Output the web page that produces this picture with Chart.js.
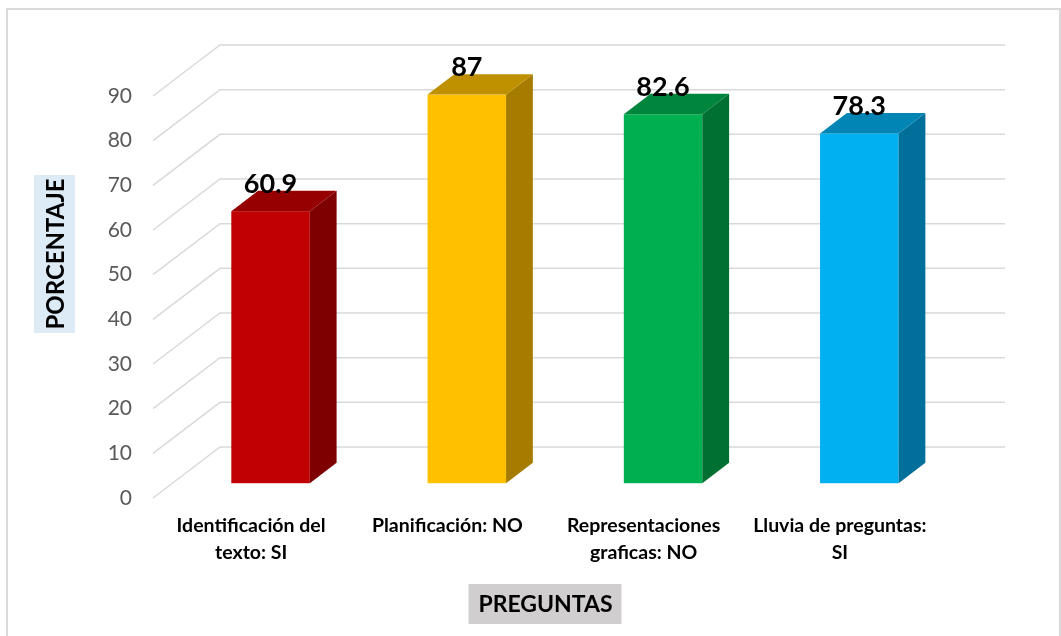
<!DOCTYPE html>
<html>
<head>
<meta charset="utf-8">
<script src="https://cdn.jsdelivr.net/npm/chart.js@4.4.1/dist/chart.umd.min.js"></script>
<style>
  html, body { margin: 0; padding: 0; background: #fff; }
  #wrap { width: 1061px; height: 636px; }
</style>
</head>
<body>
<div id="wrap"><canvas id="preguntasChart" width="1061" height="636"></canvas></div>
<script>
const categories = [['Identificación del', 'texto: SI'], 'Planificación: NO', ['Representaciones', 'graficas: NO'], ['Lluvia de preguntas:', 'SI']];
const values = [60.9, 87, 82.6, 78.3];
const frontColors = ['#c00000', '#ffc000', '#00b050', '#00b0f0'];
const sideColors = ['#7f0000', '#a67c00', '#007032', '#00709a'];
const topColors = ['#960000', '#bf9000', '#00853c', '#0085b5'];
const yMin = 0, yMax = 90, yStep = 10;

// 3D depth of the floor / side wall
const DX = 67, DY = 51;
const F0 = 0.29, F1 = 0.69;   // bar front / back position in the depth

const bars3d = {
    id: 'bars3d',
    beforeDraw(chart) {
        const ctx = chart.ctx;
        const a = chart.chartArea;
        const y = chart.scales.y;
        ctx.save();
        // outer frame
        ctx.strokeStyle = '#d9d9d9';
        ctx.lineWidth = 2;
        ctx.strokeRect(7, 9, 1053, 640);
        // gridlines: side wall diagonal + back wall
        ctx.lineWidth = 1.5;
        y.ticks.forEach(t => {
            const py = y.getPixelForValue(t.value);
            ctx.beginPath();
            ctx.moveTo(a.left, py);
            ctx.lineTo(a.left + DX, py - DY);
            ctx.lineTo(a.right + DX, py - DY);
            ctx.stroke();
        });
        ctx.restore();
    },
    beforeDatasetsDraw(chart) {
        const ctx = chart.ctx;
        const meta = chart.getDatasetMeta(0);
        const ox = DX * F0, oy = DY * F0;
        const dx = DX * (F1 - F0), dy = DY * (F1 - F0);
        ctx.save();
        meta.data.forEach((el, i) => {
            const p = el.getProps(['x', 'y', 'base', 'width'], true);
            const l = p.x - p.width / 2 + ox, r = l + p.width;
            const t = p.y - oy, b = p.base - oy;
            // front
            ctx.fillStyle = frontColors[i];
            ctx.fillRect(l, t, r - l, b - t);
            // side
            ctx.fillStyle = sideColors[i];
            ctx.beginPath();
            ctx.moveTo(r, t); ctx.lineTo(r + dx, t - dy); ctx.lineTo(r + dx, b - dy); ctx.lineTo(r, b);
            ctx.closePath(); ctx.fill();
            // top
            ctx.fillStyle = topColors[i];
            ctx.beginPath();
            ctx.moveTo(l, t); ctx.lineTo(l + dx, t - dy); ctx.lineTo(r + dx, t - dy); ctx.lineTo(r, t);
            ctx.closePath(); ctx.fill();
        });
        ctx.restore();
        return false;
    },
    afterDraw(chart) {
        const ctx = chart.ctx;
        const a = chart.chartArea;
        const meta = chart.getDatasetMeta(0);
        const ox = DX * F0, oy = DY * F0;
        const dy = DY * (F1 - F0);
        ctx.save();
        // value labels
        ctx.fillStyle = '#000';
        ctx.font = 'bold 27px Lato';
        ctx.textAlign = 'center';
        ctx.textBaseline = 'alphabetic';
        meta.data.forEach((el, i) => {
            const p = el.getProps(['x', 'y'], true);
            ctx.fillText(String(values[i]), p.x + ox, p.y - oy - dy + 2);
        });
        // y axis title
        ctx.fillStyle = '#ddebf7';
        ctx.fillRect(34, 175, 41, 158);
        ctx.save();
        ctx.translate(55, 254);
        ctx.rotate(-Math.PI / 2);
        ctx.fillStyle = '#000';
        ctx.font = 'bold 24px Lato';
        ctx.textBaseline = 'middle';
        ctx.fillText('PORCENTAJE', 0, 1);
        ctx.restore();
        // x axis title
        const cx = (a.left + a.right) / 2;
        ctx.fillStyle = '#d0cece';
        ctx.fillRect(cx - 77, 584, 153, 40);
        ctx.fillStyle = '#000';
        ctx.font = 'bold 23px Lato';
        ctx.textBaseline = 'middle';
        ctx.fillText('PREGUNTAS', cx, 605);
        ctx.restore();
    }
};

const ctx1 = document.getElementById('preguntasChart').getContext('2d');

const config1 = {
    type: 'bar',
    data: {
        labels: categories,
        datasets: [{
            data: values,
            backgroundColor: frontColors,
            barPercentage: 0.4,
            categoryPercentage: 1
        }]
    },
    options: {
        responsive: false,
        animation: false,
        layout: { padding: { left: 0, top: 96, right: 123, bottom: 0 } },
        plugins: {
            legend: { display: false },
            tooltip: { enabled: false }
        },
        scales: {
            x: {
                grid: { display: false, drawTicks: false },
                border: { display: false },
                ticks: {
                    color: '#000',
                    font: { family: 'Lato', size: 19.5, weight: 'bold', lineHeight: 1.38 },
                    padding: 14,
                    maxRotation: 0,
                    autoSkip: false
                },
                afterFit(scale) { scale.height = 138; }
            },
            y: {
                min: yMin,
                max: yMax,
                grid: { display: false, drawTicks: false },
                border: { display: false },
                ticks: {
                    stepSize: yStep,
                    color: '#595959',
                    font: { family: 'Lato', size: 21 },
                    padding: 21
                },
                afterFit(scale) { scale.width = 153; }
            }
        }
    },
    plugins: [bars3d]
};

const preguntasChart = new Chart(ctx1, config1);
</script>
</body>
</html>
